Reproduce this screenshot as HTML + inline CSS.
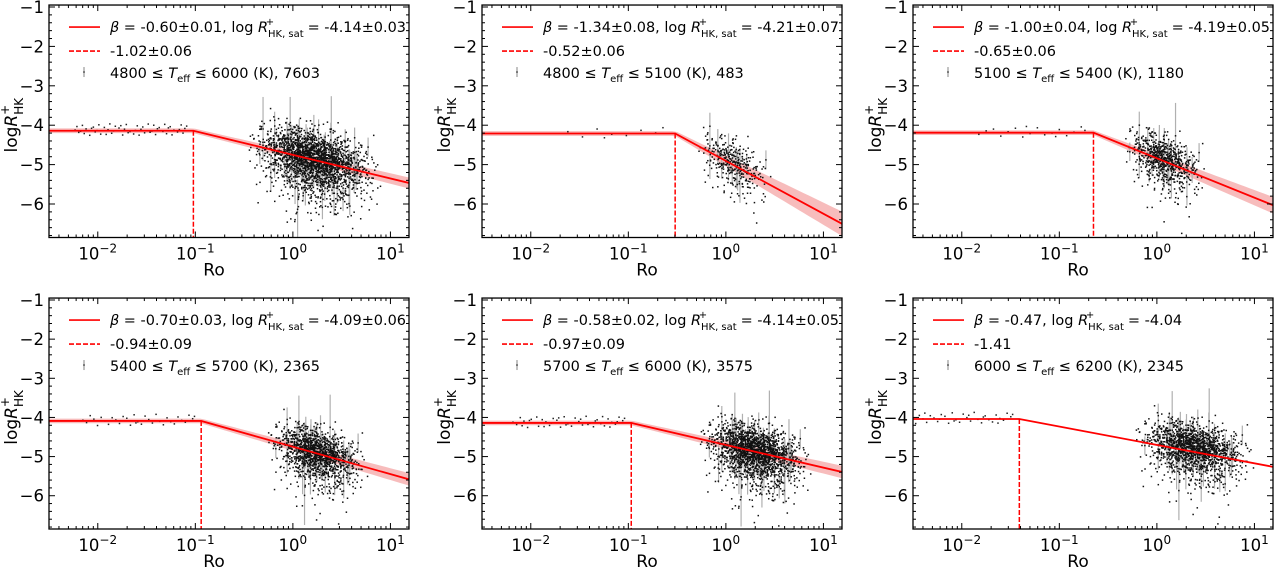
<!DOCTYPE html>
<html><head><meta charset="utf-8"><style>
body{margin:0;background:#fff;width:1275px;height:568px;overflow:hidden}
svg{font-family:"DejaVu Sans","Liberation Sans",sans-serif}
</style></head><body>
<svg id="fig" width="1275" height="568"></svg>
<script>
// fit parameters per panel
const betas=[-0.60,-1.34,-1.00,-0.70,-0.58,-0.47];
const sats=[-4.14,-4.21,-4.19,-4.09,-4.14,-4.04];
const breaks=[-1.02,-0.52,-0.65,-0.94,-0.97,-1.41];
const betaErr=["±0.01","±0.08","±0.04","±0.03","±0.02",""];
const satErr=["±0.03","±0.07","±0.05","±0.06","±0.05",""];
const breakErr=["±0.06","±0.06","±0.06","±0.09","±0.09",""];
const teffLo=[4800,4800,5100,5400,5700,6000];
const teffHi=[6000,5100,5400,5700,6000,6200];
const counts=[7603,483,1180,2365,3575,2345];
// scatter cloud descriptors (log Ro center, half-width, drawn points, y spread, y offset from fit)
const cloudCenter=[0.22,0.08,0.08,0.25,0.3,0.38];
const cloudHalf=[0.5,0.3,0.32,0.38,0.42,0.45];
const cloudPts=[2200,350,700,1300,1800,1500];
const cloudSpread=[0.35,0.28,0.28,0.3,0.32,0.3];
const cloudOffset=[0.0,0.05,0.05,0.0,0.0,0.1];
const bandHalf=[0.08,0.25,0.15,0.1,0.1,0];
const xTicks=[-2,-1,0,1];
const yTicks=[-1,-2,-3,-4,-5,-6];
const NS="http://www.w3.org/2000/svg";
const svg=document.getElementById('fig');
function mk(t,a,p){const e=document.createElementNS(NS,t);for(const k in a)e.setAttribute(k,a[k]);(p||svg).appendChild(e);return e;}
function halton(i,b){let f=1,r=0;while(i>0){f/=b;r+=f*(i%b);i=Math.floor(i/b);}return r;}
const lefts=[49,482,913], W=360;
const rowsY=[[7,237.5],[300,529]];
for(let p=0;p<6;p++){
  const L=lefts[p%3], r=Math.floor(p/3);
  const yTop1=rowsY[r][0], yScale=(rowsY[r][1]-yTop1)/5.85;
  const X0=-2.5, X1=Math.log10(15.5);
  const sx=v=>L+(v-X0)/(X1-X0)*W;
  const sy=v=>yTop1+(-1-v)*yScale;
  const T=sy(-0.95), B=sy(-6.85);
  const g=mk('g',{});
  
  
  const clipId='c'+p;
  const cp=mk('clipPath',{id:clipId},g);mk('rect',{x:L,y:T,width:W,height:B-T},cp);
  const plot=mk('g',{'clip-path':'url(#'+clipId+')'},g);
  const fit=x=>x<breaks[p]?sats[p]:sats[p]+betas[p]*(x-breaks[p]);
  if(bandHalf[p]>0){
    let up=[],dn=[];
    for(let x=X0;x<=X1+0.01;x+=0.05){const w=x<breaks[p]?0.06:0.06+bandHalf[p]*(x-breaks[p])/(X1-breaks[p]);up.push(sx(x)+','+sy(fit(x)+w));dn.unshift(sx(x)+','+sy(fit(x)-w));}
    const b=mk('polygon',{points:up.concat(dn).join(' '),fill:'#f4a0a0',opacity:0.7},plot);
    
    
  }
  const sg=mk('g',{},plot);
  
  
  const n=cloudPts[p];
  const pts=[];
  for(let i=1;i<=n;i++){
    const u=halton(i,2),v=halton(i,3),w=halton(i,5);
    const gx=(u+v+w-1.5)/1.5;
    const x=cloudCenter[p]+gx*cloudHalf[p]*1.5;
    const gy=Math.sqrt(-2*Math.log(halton(i,7)+1e-3))*Math.cos(6.283*halton(i,11));
    const y=fit(x)+cloudOffset[p]+gy*cloudSpread[p]*(1+Math.max(0,-gy)*0.25);
    pts.push([x,y]);
  }
  for(let j=7;j<pts.length;j+=37){const [x,y]=pts[j];const e=0.15+halton(j,13)*0.7;mk('line',{x1:sx(x),x2:sx(x),y1:sy(y+e),y2:sy(y-e),stroke:'#b0b0b0','stroke-width':1.2},sg);}
  for(const [x,y] of pts) mk('rect',{x:sx(x)-0.75,y:sy(y)-0.75,width:1.5,height:1.5,fill:'#111'},sg);
  for(let i=1;i<=Math.round(n/40);i++){
    const x=breaks[p]-0.05-halton(i,2)*1.2, y=sats[p]+(halton(i,3)-0.4)*0.3;
    mk('rect',{x:sx(x)-0.75,y:sy(y)-0.75,width:1.5,height:1.5,fill:'#222'},sg);
  }
  const fl=mk('polyline',{points:[X0,breaks[p],X1].map(x=>sx(x)+','+sy(fit(x))).join(' '),fill:'none',stroke:'#f00','stroke-width':1.8},plot);
  
  
  const dl=mk('line',{x1:sx(breaks[p]),x2:sx(breaks[p]),y1:sy(sats[p]),y2:B,stroke:'#f00','stroke-width':1.5,'stroke-dasharray':'5,2'},plot);
  
  
  const fr=mk('rect',{x:L,y:T,width:W,height:B-T,fill:'none',stroke:'#000','stroke-width':1.3},g);
  
  
  for(const t of yTicks){const y=sy(t);mk('line',{x1:L,x2:L+6,y1:y,y2:y,stroke:'#000'},g);mk('line',{x1:L+W-6,x2:L+W,y1:y,y2:y,stroke:'#000'},g);
    for(const m of [-0.2,-0.4,-0.6,-0.8]){const yy=sy(t+m);if(yy<B){mk('line',{x1:L,x2:L+3,y1:yy,y2:yy,stroke:'#000'},g);mk('line',{x1:L+W-3,x2:L+W,y1:yy,y2:yy,stroke:'#000'},g);}}
    const tl=mk('text',{x:L-5,y:y+6,'text-anchor':'end','font-size':16.5},g);tl.textContent='\u2212'+(-t);
    
    }
  for(let d=-3;d<=1;d++)for(let k=1;k<10;k++){const v=d+Math.log10(k);if(v<X0||v>X1)continue;const x=sx(v),len=k===1?6:3;
    mk('line',{x1:x,x2:x,y1:B-len,y2:B,stroke:'#000'},g);mk('line',{x1:x,x2:x,y1:T,y2:T+len,stroke:'#000'},g);}
  for(const t of xTicks){const x=sx(t);const tl=mk('text',{x:x,y:B+22,'text-anchor':'middle','font-size':16.5},g);
    tl.innerHTML='10<tspan dy="-7" font-size="12">'+(t<0?'\u2212'+(-t):t)+'</tspan>';
    
    }
  const xl=mk('text',{x:L+W/2-15,y:B+38,'text-anchor':'middle','font-size':17},g);xl.textContent='Ro';
  
  
  const yl=mk('text',{transform:'translate('+(L-32)+','+sy(-4)+') rotate(-90)','text-anchor':'middle','font-size':17},g);
  yl.innerHTML='log<tspan font-style="italic">R</tspan><tspan dy="6" font-size="12">HK</tspan><tspan dy="-14" dx="-17" font-size="12">+</tspan>';
  
  
  const lg=mk('g',{},g);
  
  
  const ly=[T+22,T+46,T+68];
  mk('line',{x1:L+20,x2:L+51,y1:ly[0],y2:ly[0],stroke:'#f00','stroke-width':1.6},lg);
  mk('line',{x1:L+20,x2:L+51,y1:ly[1],y2:ly[1],stroke:'#f00','stroke-width':1.6,'stroke-dasharray':'5,2'},lg);
  mk('line',{x1:L+35,x2:L+35,y1:ly[2]-6,y2:ly[2]+4,stroke:'#999','stroke-width':1.2},lg);
  mk('rect',{x:L+34.3,y:ly[2]-1.7,width:1.4,height:1.4,fill:'#222'},lg);
  const t1=mk('text',{x:L+61,y:ly[0]+5,'font-size':14.5},lg);
  t1.innerHTML='<tspan font-style="italic">β</tspan> = '+betas[p].toFixed(2)+betaErr[p]+', log <tspan font-style="italic">R</tspan><tspan dy="5" font-size="10">HK, sat</tspan><tspan dy="-12" dx="-38" font-size="10">+</tspan><tspan dy="7" dx="29"> = '+sats[p].toFixed(2)+satErr[p]+'</tspan>';
  if(betaErr[p]) t1.setAttribute('textLength',296);
  t1.setAttribute('lengthAdjust','spacingAndGlyphs');
  
  
  const t2=mk('text',{x:L+61,y:ly[1]+5,'font-size':14.5},lg);t2.textContent=breaks[p].toFixed(2)+breakErr[p];
  
  
  const t3=mk('text',{x:L+61,y:ly[2]+5,'font-size':14.5},lg);
  t3.innerHTML=teffLo[p]+' ≤ <tspan font-style="italic">T</tspan><tspan dy="4" font-size="10">eff</tspan><tspan dy="-4"> ≤ '+teffHi[p]+' (K), '+counts[p]+'</tspan>';
  
  
}
</script>
</body></html>
